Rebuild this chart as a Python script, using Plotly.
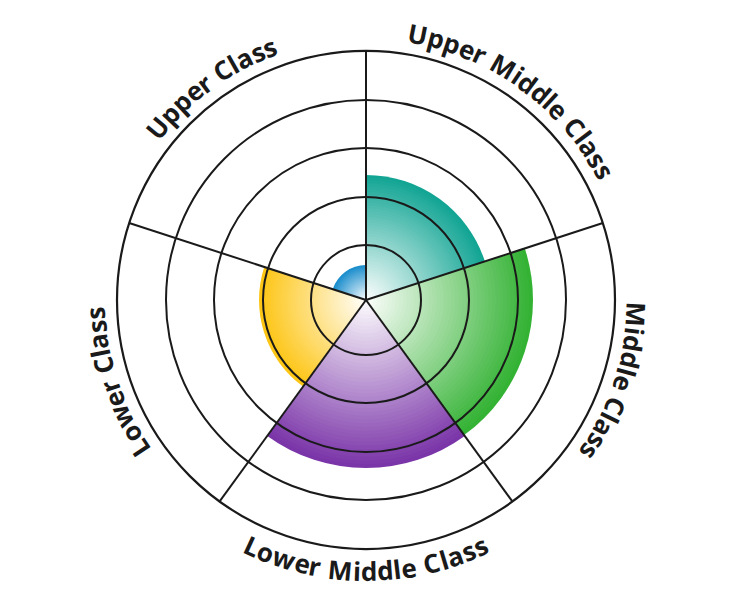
import math
import plotly.graph_objects as go

# ---- data ----
categories = ["Upper Middle Class", "Middle Class", "Lower Middle Class", "Lower Class", "Upper Class"]
values = [125, 167, 168, 107, 35]
colors = ["#13a594", "#33b233", "#7a35a8", "#fdc514", "#1a8dcc"]
ring_values = [55, 103, 152, 200]
r_max = 249

# ---- geometry / style ----
W, H = 732, 600
CX, CY = 366, 300
R = 249
n = len(categories)
step = 360 / n
thetas = [step / 2 + step * i for i in range(n)]
boundaries = [step * i for i in range(n)]
LINE = "#1a1a1a"


def hex_to_rgb(h):
    h = h.lstrip("#")
    return tuple(int(h[i:i + 2], 16) for i in (0, 2, 4))


def mix_white(h, t):
    r, g, b = hex_to_rgb(h)
    return "rgb(%d,%d,%d)" % (round(r + (255 - r) * t), round(g + (255 - g) * t), round(b + (255 - b) * t))


fig = go.Figure()

# radial gradient: overlaid layers, outer (full colour) to inner (white)
N = 45
for i in range(N):
    t = i / N
    fig.add_trace(go.Barpolar(
        r=[v * (1 - t) for v in values],
        theta=thetas,
        width=[step] * n,
        marker=dict(color=[mix_white(c, t) for c in colors], line=dict(width=0)),
        hoverinfo="skip",
        showlegend=False,
        subplot="polar",
    ))

# empty trace to create grid overlay subplot
fig.add_trace(go.Scatterpolar(r=[], theta=[], subplot="polar2", showlegend=False, hoverinfo="skip"))

dom_x = [(CX - R) / W, (CX + R) / W]
dom_y = [(H - CY - R) / H, (H - CY + R) / H]

common_ang = dict(rotation=90, direction="clockwise", type="linear", thetaunit="degrees")

fig.update_layout(
    width=W, height=H,
    margin=dict(l=0, r=0, t=0, b=0),
    paper_bgcolor="white",
    showlegend=False,
    polar=dict(
        domain=dict(x=dom_x, y=dom_y),
        bgcolor="white",
        barmode="overlay",
        radialaxis=dict(range=[0, r_max], showgrid=False, showline=False, showticklabels=False, ticks=""),
        angularaxis=dict(showgrid=False, showline=False, showticklabels=False, ticks="", **common_ang),
    ),
    polar2=dict(
        domain=dict(x=dom_x, y=dom_y),
        bgcolor="rgba(0,0,0,0)",
        radialaxis=dict(range=[0, r_max], tickmode="array", tickvals=ring_values,
                        showgrid=True, gridcolor=LINE, gridwidth=2.2,
                        showline=False, showticklabels=False, ticks=""),
        angularaxis=dict(tickmode="array", tickvals=boundaries,
                         showgrid=True, gridcolor=LINE, gridwidth=2.2,
                         showline=True, linecolor=LINE, linewidth=2.2,
                         showticklabels=False, ticks="", **common_ang),
    ),
)

# ---- curved labels (one annotation per character) ----
em = {' ': 0.26, 'U': 0.73, 'p': 0.62, 'e': 0.58, 'r': 0.43, 'M': 0.96, 'i': 0.29,
      'd': 0.62, 'l': 0.29, 'C': 0.65, 'a': 0.59, 's': 0.49, 'L': 0.53, 'o': 0.60, 'w': 0.84}
FS = 26
spacing = [1.05, 1.05, 1.02, 1.05, 1.05]
TR = 271
flip = [False, False, True, False, False]

for lab, tc, fl, sp in zip(categories, thetas, flip, spacing):
    ws = [em.get(ch, 0.6) * FS * sp for ch in lab]
    total = sum(ws)
    off = 0.0
    for ch, w in zip(lab, ws):
        mid = off + w / 2
        off += w
        if ch == " ":
            continue
        d = math.degrees((mid - total / 2) / TR)
        th = tc - d if fl else tc + d
        rad = math.radians(th)
        xp = CX + TR * math.sin(rad)
        yp = CY - TR * math.cos(rad)
        fig.add_annotation(
            x=xp / W, y=1 - yp / H, xref="paper", yref="paper",
            text="<b>%s</b>" % ch, showarrow=False,
            xanchor="center", yanchor="middle",
            textangle=(th - 180) if fl else th,
            font=dict(family="Open Sans", size=FS, color="#1a1a1a"),
        )

fig.write_html("out.html", post_script="document.body.style.margin='0';",
               config={"displayModeBar": False})
